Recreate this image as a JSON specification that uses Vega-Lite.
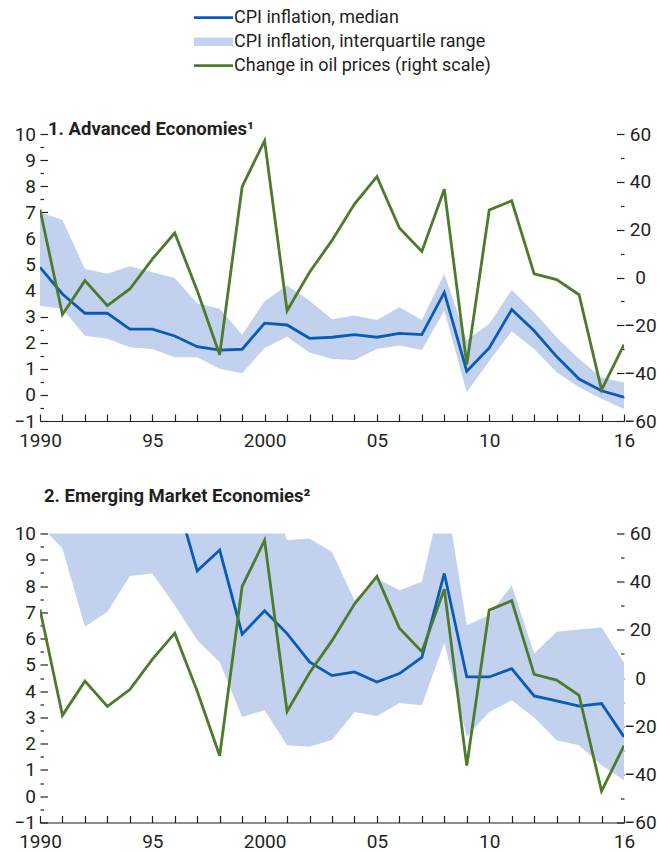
{
  "$schema": "https://vega.github.io/schema/vega-lite/v6.json",
  "background": "white",
  "autosize": {"type": "pad"},
  "padding": {"left": 13, "top": 7, "right": 0, "bottom": 0},
  "bounds": "flush",
  "spacing": 112.5,
  "config": {
    "view": {"stroke": null},
    "font": "Roboto",
    "axis": {
      "grid": false,
      "title": null,
      "domain": false,
      "labelFont": "Roboto",
      "labelFontSize": 19,
      "labelColor": "#231f20",
      "tickColor": "#231f20",
      "tickWidth": 1.2,
      "labelOverlap": false,
      "labelFlush": false
    }
  },
  "datasets": {
    "adv": [
      {"year": 1990, "med": 4.89, "lo": 3.42, "hi": 7.0, "oil": 28.4},
      {"year": 1991, "med": 3.87, "lo": 3.30, "hi": 6.70, "oil": -15.5},
      {"year": 1992, "med": 3.13, "lo": 2.27, "hi": 4.83, "oil": -1.3},
      {"year": 1993, "med": 3.13, "lo": 2.15, "hi": 4.64, "oil": -11.8},
      {"year": 1994, "med": 2.52, "lo": 1.83, "hi": 4.93, "oil": -4.8},
      {"year": 1995, "med": 2.52, "lo": 1.76, "hi": 4.70, "oil": 7.7},
      {"year": 1996, "med": 2.26, "lo": 1.44, "hi": 4.48, "oil": 18.6},
      {"year": 1997, "med": 1.85, "lo": 1.44, "hi": 3.51, "oil": -5.5},
      {"year": 1998, "med": 1.72, "lo": 1.0, "hi": 3.30, "oil": -32.3},
      {"year": 1999, "med": 1.75, "lo": 0.83, "hi": 2.31, "oil": 38.0},
      {"year": 2000, "med": 2.75, "lo": 1.80, "hi": 3.59, "oil": 57.2},
      {"year": 2001, "med": 2.68, "lo": 2.23, "hi": 4.19, "oil": -13.9},
      {"year": 2002, "med": 2.17, "lo": 1.63, "hi": 3.61, "oil": 2.2},
      {"year": 2003, "med": 2.21, "lo": 1.38, "hi": 2.90, "oil": 15.5},
      {"year": 2004, "med": 2.31, "lo": 1.34, "hi": 3.04, "oil": 30.7},
      {"year": 2005, "med": 2.21, "lo": 1.76, "hi": 2.87, "oil": 42.2},
      {"year": 2006, "med": 2.36, "lo": 1.89, "hi": 3.36, "oil": 20.7},
      {"year": 2007, "med": 2.31, "lo": 1.72, "hi": 2.87, "oil": 10.9},
      {"year": 2008, "med": 3.93, "lo": 3.23, "hi": 4.64, "oil": 36.9},
      {"year": 2009, "med": 0.91, "lo": 0.10, "hi": 2.10, "oil": -36.4},
      {"year": 2010, "med": 1.80, "lo": 1.30, "hi": 2.72, "oil": 28.2},
      {"year": 2011, "med": 3.27, "lo": 2.44, "hi": 4.02, "oil": 32.1},
      {"year": 2012, "med": 2.46, "lo": 1.76, "hi": 3.17, "oil": 1.5},
      {"year": 2013, "med": 1.47, "lo": 0.87, "hi": 2.21, "oil": -0.9},
      {"year": 2014, "med": 0.61, "lo": 0.29, "hi": 1.38, "oil": -7.2},
      {"year": 2015, "med": 0.16, "lo": -0.15, "hi": 0.67, "oil": -47.0},
      {"year": 2016, "med": -0.09, "lo": -0.54, "hi": 0.48, "oil": -28.1}
    ],
    "eme": [
      {"year": 1990, "med": 20.0, "lo": 10.33, "hi": 30.0, "oil": 28.4},
      {"year": 1991, "med": 19.0, "lo": 9.43, "hi": 28.0, "oil": -15.5},
      {"year": 1992, "med": 16.0, "lo": 6.45, "hi": 26.0, "oil": -1.3},
      {"year": 1993, "med": 14.0, "lo": 7.02, "hi": 25.0, "oil": -11.8},
      {"year": 1994, "med": 14.0, "lo": 8.38, "hi": 25.0, "oil": -4.8},
      {"year": 1995, "med": 12.5, "lo": 8.48, "hi": 20.0, "oil": 7.7},
      {"year": 1996, "med": 11.57, "lo": 7.27, "hi": 17.0, "oil": 18.6},
      {"year": 1997, "med": 8.58, "lo": 5.94, "hi": 15.0, "oil": -5.5},
      {"year": 1998, "med": 9.37, "lo": 5.11, "hi": 16.0, "oil": -32.3},
      {"year": 1999, "med": 6.17, "lo": 3.02, "hi": 13.0, "oil": 38.0},
      {"year": 2000, "med": 7.06, "lo": 3.27, "hi": 12.0, "oil": 57.2},
      {"year": 2001, "med": 6.19, "lo": 1.94, "hi": 9.75, "oil": -13.9},
      {"year": 2002, "med": 5.11, "lo": 1.88, "hi": 9.81, "oil": 2.2},
      {"year": 2003, "med": 4.59, "lo": 2.15, "hi": 9.30, "oil": 15.5},
      {"year": 2004, "med": 4.73, "lo": 3.21, "hi": 7.46, "oil": 30.7},
      {"year": 2005, "med": 4.35, "lo": 3.05, "hi": 8.29, "oil": 42.2},
      {"year": 2006, "med": 4.67, "lo": 3.55, "hi": 7.84, "oil": 20.7},
      {"year": 2007, "med": 5.28, "lo": 3.46, "hi": 8.16, "oil": 10.9},
      {"year": 2008, "med": 8.48, "lo": 5.84, "hi": 11.84, "oil": 36.9},
      {"year": 2009, "med": 4.54, "lo": 2.26, "hi": 6.51, "oil": -36.4},
      {"year": 2010, "med": 4.54, "lo": 3.21, "hi": 6.89, "oil": 28.2},
      {"year": 2011, "med": 4.86, "lo": 3.65, "hi": 8.03, "oil": 32.1},
      {"year": 2012, "med": 3.82, "lo": 3.0, "hi": 5.43, "oil": 1.5},
      {"year": 2013, "med": 3.63, "lo": 2.13, "hi": 6.26, "oil": -0.9},
      {"year": 2014, "med": 3.43, "lo": 1.94, "hi": 6.35, "oil": -7.2},
      {"year": 2015, "med": 3.53, "lo": 1.18, "hi": 6.42, "oil": -47.0},
      {"year": 2016, "med": 2.26, "lo": 0.61, "hi": 5.08, "oil": -28.1}
    ]
  },
  "vconcat": [
    {
      "title": {"text": "1. Advanced Economies¹", "anchor": "start", "frame": "group", "dx": 8, "offset": -28, "baseline": "alphabetic", "fontSize": 18.5, "fontWeight": "bold", "color": "#231f20", "font": "Roboto"},
      "width": 584,
      "height": 287,
      "data": {"name": "adv"},
      "resolve": {"scale": {"y": "independent"}},
      "encoding": {
        "x": {"field": "year", "type": "quantitative", "scale": {"domain": [1990, 2016], "nice": false, "zero": false},
          "axis": {"orient": "bottom", "values": [1990,1991,1992,1993,1994,1995,1996,1997,1998,1999,2000,2001,2002,2003,2004,2005,2006,2007,2008,2009,2010,2011,2012,2013,2014,2015,2016],
            "labelExpr": "datum.value === 1990 || datum.value === 2000 ? format(datum.value, 'd') : ((datum.value % 5 === 0 && datum.value !== 2015) || datum.value === 2016) ? slice(format(datum.value, 'd'), 2) : ''",
            "domain": true, "domainColor": "#231f20", "domainWidth": 1.2, "tickSize": -7, "labelPadding": 17}}
      },
      "layer": [
        {"mark": {"type": "area", "clip": true, "opacity": 1},
          "encoding": {
            "y": {"field": "lo", "type": "quantitative", "scale": {"domain": [-1, 10], "nice": false, "zero": false},
              "axis": {"orient": "left", "values": [-1,-0.5,0,0.5,1,1.5,2,2.5,3,3.5,4,4.5,5,5.5,6,6.5,7,7.5,8,8.5,9,9.5,10],
                "labelExpr": "datum.value % 1 === 0 ? format(datum.value, 'd') : ''",
                "tickSize": {"condition": {"test": "datum.value % 1 !== 0", "value": -3.5}, "value": -7.5}, "labelPadding": 12}},
            "y2": {"field": "hi"},
            "color": {"datum": "CPI inflation, interquartile range", "type": "nominal",
              "scale": {"domain": ["CPI inflation, median", "CPI inflation, interquartile range", "Change in oil prices (right scale)"], "range": ["#0a5bb8", "#c2d1ed", "#4b7b2b"]},
              "legend": {"orient": "none", "legendX": 163.5, "legendY": -126.3, "direction": "vertical", "title": null, "padding": 0,
                "symbolSize": 400, "labelOffset": 10.5, "rowPadding": 5, "labelFontSize": 18,
                "labelFont": "Roboto", "labelColor": "#231f20", "labelLimit": 500,
                "encoding": {"symbols": {
                  "shape": {"value": {"signal": "datum.value === 'CPI inflation, interquartile range' ? 'M-1.95,-0.42H1.95V0.42H-1.95Z' : 'M-1.95,-0.14H1.95V0.14H-1.95Z'"}},
                  "fill": {"value": {"signal": "scale('color', datum.value)"}},
                  "stroke": {"value": "transparent"},
                  "strokeWidth": {"value": 0},
                  "opacity": {"value": 1}
                }}}}
          }},
        {"data": {"values": [{}]}, "mark": {"type": "rule", "color": "#3a3a3a", "strokeWidth": 1.1},
          "encoding": {"y": {"datum": 0, "type": "quantitative", "scale": {"domain": [-1, 10], "nice": false, "zero": false}, "axis": null}}},
        {"mark": {"type": "line", "clip": true, "strokeWidth": 2.8},
          "encoding": {
            "y": {"field": "med", "type": "quantitative", "scale": {"domain": [-1, 10], "nice": false, "zero": false}, "axis": null},
            "color": {"datum": "CPI inflation, median", "type": "nominal"}}},
        {"mark": {"type": "line", "clip": true, "strokeWidth": 2.8},
          "encoding": {
            "y": {"field": "oil", "type": "quantitative", "scale": {"domain": [-60, 60], "nice": false, "zero": false},
              "axis": {"orient": "right", "values": [-60,-50,-40,-30,-20,-10,0,10,20,30,40,50,60],
                "labelExpr": "datum.value % 20 === 0 ? format(datum.value, 'd') : ''",
                "tickSize": {"condition": {"test": "datum.value % 20 !== 0", "value": -3.5}, "value": -7.5},
                "labelAlign": "center", "labelPadding": 23.5}},
            "color": {"datum": "Change in oil prices (right scale)", "type": "nominal"}}}
      ]
    },
    {
      "title": {"text": "2. Emerging Market Economies²", "anchor": "start", "frame": "group", "dx": 4, "offset": 4, "baseline": "alphabetic", "fontSize": 18.5, "fontWeight": "bold", "color": "#231f20", "font": "Roboto"},
      "width": 584,
      "height": 289,
      "data": {"name": "eme"},
      "resolve": {"scale": {"y": "independent"}},
      "encoding": {
        "x": {"field": "year", "type": "quantitative", "scale": {"domain": [1990, 2016], "nice": false, "zero": false},
          "axis": {"orient": "bottom", "values": [1990,1991,1992,1993,1994,1995,1996,1997,1998,1999,2000,2001,2002,2003,2004,2005,2006,2007,2008,2009,2010,2011,2012,2013,2014,2015,2016],
            "labelExpr": "datum.value === 1990 || datum.value === 2000 ? format(datum.value, 'd') : ((datum.value % 5 === 0 && datum.value !== 2015) || datum.value === 2016) ? slice(format(datum.value, 'd'), 2) : ''",
            "domain": true, "domainColor": "#231f20", "domainWidth": 1.2, "tickSize": -7, "labelPadding": 17}}
      },
      "layer": [
        {"mark": {"type": "area", "clip": true, "opacity": 1},
          "encoding": {
            "y": {"field": "lo", "type": "quantitative", "scale": {"domain": [-1, 10], "nice": false, "zero": false},
              "axis": {"orient": "left", "values": [-1,-0.5,0,0.5,1,1.5,2,2.5,3,3.5,4,4.5,5,5.5,6,6.5,7,7.5,8,8.5,9,9.5,10],
                "labelExpr": "datum.value % 1 === 0 ? format(datum.value, 'd') : ''",
                "tickSize": {"condition": {"test": "datum.value % 1 !== 0", "value": -3.5}, "value": -7.5}, "labelPadding": 12}},
            "y2": {"field": "hi"},
            "color": {"datum": "CPI inflation, interquartile range", "type": "nominal"}
          }},
        {"data": {"values": [{}]}, "mark": {"type": "rule", "color": "#3a3a3a", "strokeWidth": 1.1},
          "encoding": {"y": {"datum": 0, "type": "quantitative", "scale": {"domain": [-1, 10], "nice": false, "zero": false}, "axis": null}}},
        {"mark": {"type": "line", "clip": true, "strokeWidth": 2.8},
          "encoding": {
            "y": {"field": "med", "type": "quantitative", "scale": {"domain": [-1, 10], "nice": false, "zero": false}, "axis": null},
            "color": {"datum": "CPI inflation, median", "type": "nominal"}}},
        {"mark": {"type": "line", "clip": true, "strokeWidth": 2.8},
          "encoding": {
            "y": {"field": "oil", "type": "quantitative", "scale": {"domain": [-60, 60], "nice": false, "zero": false},
              "axis": {"orient": "right", "values": [-60,-50,-40,-30,-20,-10,0,10,20,30,40,50,60],
                "labelExpr": "datum.value % 20 === 0 ? format(datum.value, 'd') : ''",
                "tickSize": {"condition": {"test": "datum.value % 20 !== 0", "value": -3.5}, "value": -7.5},
                "labelAlign": "center", "labelPadding": 23.5}},
            "color": {"datum": "Change in oil prices (right scale)", "type": "nominal"}}}
      ]
    }
  ]
}
